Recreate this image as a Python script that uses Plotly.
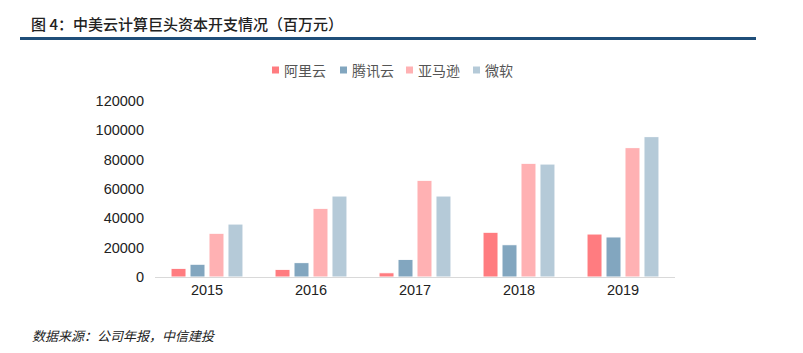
import plotly.graph_objects as go

years = ["2015", "2016", "2017", "2018", "2019"]
series_names = ["阿里云", "腾讯云", "亚马逊", "微软"]
alibaba = [5900, 5200, 2900, 30500, 29300]
tencent = [8700, 9800, 12000, 22000, 27300]
amazon = [29800, 46800, 65900, 77500, 88200]
microsoft = [36100, 55200, 55200, 77000, 95700]
y_ticks = [0, 20000, 40000, 60000, 80000, 100000, 120000]

colors = ["#FF7C80", "#82A6BF", "#FFB1B3", "#B5CAD8"]
values = [alibaba, tencent, amazon, microsoft]

L, R, T, B = 155, 128, 101, 76
PW, PH = 803 - L - R, 353 - T - B


def px(x):
    return (x - L) / PW


def py(y):
    return (353 - B - y) / PH


fig = go.Figure()
for name, vals, c in zip(series_names, values, colors):
    fig.add_trace(go.Bar(
        x=years, y=vals, name=name,
        marker=dict(color=c, line=dict(color="white", width=1)),
    ))

fig.update_layout(
    width=803, height=353,
    margin=dict(l=L, r=R, t=T, b=B),
    paper_bgcolor="white", plot_bgcolor="white",
    barmode="group", bargap=0.27, bargroupgap=0.21,
    font=dict(family="Liberation Sans, Arial, sans-serif", size=14, color="#222"),
    showlegend=False,
    xaxis=dict(
        showline=True, linecolor="#D9D9D9", linewidth=1,
        ticks="", showgrid=False, tickfont=dict(size=14.5, color="#222"),
    ),
    yaxis=dict(
        range=[0, 120000], tickvals=y_ticks, ticktext=[str(v) for v in y_ticks],
        showgrid=False, showline=False, zeroline=False, ticks="",
        tickfont=dict(size=14.5, color="#222"), ticklabelstandoff=10,
    ),
)

# legend drawn manually (compact spacing as in the reference)
leg_x = [272, 340, 406, 473]
for name, c, lx in zip(series_names, colors, leg_x):
    fig.add_shape(
        type="rect", xref="paper", yref="paper",
        x0=px(lx), x1=px(lx + 7), y0=py(73.5), y1=py(66.5),
        fillcolor=c, line=dict(width=0),
    )
    fig.add_annotation(
        text=name, xref="paper", yref="paper", x=px(lx + 10), y=py(70),
        xanchor="left", yanchor="middle", showarrow=False,
        font=dict(family="Noto Sans CJK SC", size=14, color="#555"),
    )

fig.add_annotation(
    text="图 4：中美云计算巨头资本开支情况（百万元）",
    xref="paper", yref="paper", x=px(29), y=py(23),
    xanchor="left", yanchor="middle", showarrow=False,
    font=dict(family="Noto Sans CJK SC", size=15, color="#222", weight=500),
)
fig.add_shape(
    type="line", xref="paper", yref="paper",
    x0=px(20), x1=px(756), y0=py(38.5), y1=py(38.5),
    line=dict(color="#1F4E79", width=3),
)
fig.add_annotation(
    text="<i>数据来源：公司年报，中信建投</i>",
    xref="paper", yref="paper", x=px(30), y=py(335),
    xanchor="left", yanchor="middle", showarrow=False,
    font=dict(family="Noto Sans CJK SC", size=13, color="#222"),
)

fig.write_html("out.html")
